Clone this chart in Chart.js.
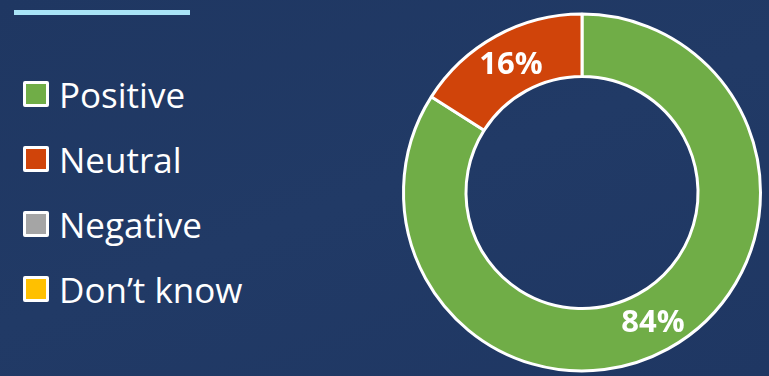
<!DOCTYPE html>
<html>
<head>
<meta charset="utf-8">
<script src="https://cdn.jsdelivr.net/npm/chart.js@4"></script>
<style>
    html, body {
        margin: 0;
        padding: 0;
    }

    body {
        width: 769px;
        height: 376px;
        overflow: hidden;
        background: linear-gradient(160deg, #1f3762 0%, #213a66 50%, #1f3763 100%);
        font-family: "Open Sans", "Noto Sans", sans-serif;
        position: relative;
    }

    .top-bar {
        position: absolute;
        left: 14px;
        top: 10px;
        width: 176px;
        height: 5px;
        background: #a9e4f7;
    }

    #legend {
        position: absolute;
        left: 23px;
        top: 75px;
        margin: 0;
        padding: 0;
        list-style: none;
    }

    #legend li {
        display: flex;
        align-items: center;
        height: 38px;
        margin-bottom: 27px;
        color: #ffffff;
        font-size: 35px;
        white-space: nowrap;
    }

    #legend .box {
        width: 20px;
        height: 20px;
        border: 3px solid #ffffff;
        border-radius: 2px;
        margin-right: 10px;
        flex: none;
    }

    #chart-wrap {
        position: absolute;
        left: 0;
        top: 0;
        width: 769px;
        height: 376px;
    }
</style>
</head>
<body>
<div class="top-bar"></div>
<ul id="legend"></ul>
<div id="chart-wrap">
    <canvas id="sentimentChart"></canvas>
</div>

<script>
const categories = ["Positive", "Neutral", "Negative", "Don\u2019t know"];
const shares = [84, 16, 0, 0];
const sliceColors = ["#70ad47", "#d0440a", "#a5a5a5", "#ffc000"];

const chartCanvas = document.getElementById("sentimentChart");

// percentage labels in the middle of each ring segment
const sliceLabels = {
    id: "sliceLabels",
    afterDatasetsDraw(chart) {
        const { ctx } = chart;
        const meta = chart.getDatasetMeta(0);

        ctx.save();
        ctx.fillStyle = "#ffffff";
        ctx.font = "bold 31px 'Open Sans', 'Noto Sans', sans-serif";
        ctx.textAlign = "center";
        ctx.textBaseline = "middle";

        meta.data.forEach((arc, i) => {
            const value = shares[i];
            if (!value) {
                return;
            }
            const pos = arc.tooltipPosition();
            ctx.fillText(`${value}%`, pos.x, pos.y + 2);
        });

        ctx.restore();
    }
};

const sentimentChart = new Chart(chartCanvas, {
    type: "doughnut",

    data: {
        labels: categories,
        datasets: [
            {
                data: shares,
                backgroundColor: sliceColors,
                borderColor: "#ffffff",
                borderWidth: 3,
                hoverOffset: 0
            }
        ]
    },

    options: {
        responsive: true,
        maintainAspectRatio: false,
        animation: false,
        cutout: "65%",

        layout: {
            padding: {
                left: 402,
                right: 7,
                top: 12,
                bottom: 3
            }
        },

        plugins: {
            legend: {
                display: false
            },

            tooltip: {
                enabled: false
            }
        }
    },

    plugins: [sliceLabels]
});

// build the left legend from the chart's own items
const legendList = document.getElementById("legend");

sentimentChart.options.plugins.legend.labels
    .generateLabels(sentimentChart)
    .forEach((item) => {
        const li = document.createElement("li");
        const box = document.createElement("span");
        box.className = "box";
        box.style.background = item.fillStyle;
        const text = document.createElement("span");
        text.textContent = item.text;
        li.appendChild(box);
        li.appendChild(text);
        legendList.appendChild(li);
    });
</script>
</body>
</html>
